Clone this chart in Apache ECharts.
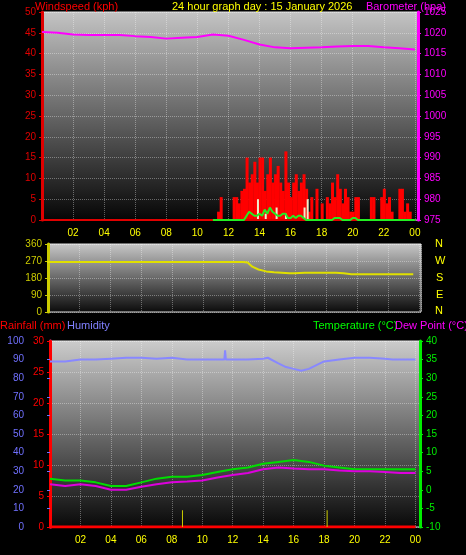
<!DOCTYPE html>
<html><head><meta charset="utf-8">
<script src="https://cdn.jsdelivr.net/npm/echarts@6/dist/echarts.min.js"></script>
<style>body{margin:0;background:#000}#c{width:466px;height:555px}</style>
</head><body><div id="c"></div>
<script>
// gusts every 10 min from 11:00 to 24:00
var gustStart = 11;
var gusts = [0,0,2,5.5,0,0, 0,0,5.5,5.5,4,7, 7.5,15,9,11,14,9, 15,15,7,11,15,9, 11,13,9,7,16.5,9,
  5.5,9,11,7,9,11, 7.5,2,5.5,0,7.5,0, 4,0,5.5,4,9,5.5, 11,7.5,4,7.5,5.5,2, 2,5.5,5.5,0,0,0,
  0,5.5,5.5,0,0,5.5, 7.5,4,5.5,2,0,0, 7.5,7.5,2,4,2,0, 0];
var avgWind = [0,0,0,0,0,0, 0,0,0,0,0,0, 0,1,2,1.5,1,1, 1.5,1,2.5,1.5,3,2, 1.5,1,1,1.5,1.5,0.5,
  0.5,1,0.5,1,1,0.5, 0,0,0,0,0,0, 0,0,0,0,0,0.5, 0.5,0.5,0,0,0,0, 0.5,0.5,0,0,0,0,
  0,0,0,0,0,0, 0,0,0,0,0,0, 0,0,0,0,0,0, 0];
var whiteBars = [[13.9,5],[14.4,1.5],[15.1,3],[15.7,1.5],[16.9,3],[17.1,5]];
var hours = [0,1,2,3,4,5,6,7,8,9,10,11,12,13,14,15,16,17,18,19,20,21,22,23,24];
var baro = [1020.2,1020,1019.6,1019.5,1019.5,1019.5,1019.2,1019,1018.6,1018.8,1019,1019.6,1019.3,1018.3,1017.2,1016.5,1016.3,1016.4,1016.5,1016.7,1016.8,1016.8,1016.5,1016.3,1016];
var dirHours = [0,13,13.3,13.6,14,14.5,15,16,16.3,17,18,19,19.5,20,24];
var dir = [265,265,262,240,225,215,210,205,205,208,208,208,205,200,200];
var humHours = [0,1,2,3,4,5,6,7,8,9,10,11,11.45,11.5,11.55,12,13,14,14.3,15,15.5,16,16.5,17,17.5,18,19,20,21,22,22.5,24];
var hum = [89,89,90,90,90.5,91,91,90.5,91,90,90,90,90,95,90,90,90,90.5,91,88,86,85,84,85,87,89,90,91,91,90.5,90,90];
var temp = [3,2.5,2.5,2,1,1,2,3,3.5,3.5,4,4.8,5.5,6,7,7.5,8,7.5,6.5,6,5.5,5.5,5.5,5.5,5.5];
var dew = [1.5,1,1.5,1,0,0,0.8,1.5,2,2.2,2.5,3.3,4,4.5,5.5,6,5.7,5.5,5.5,5.2,5,5,4.8,4.5,4.5];
var strikes = [8.7,18.2];

function pairs(xs, ys){ return xs.map(function(x,i){ return [x, ys[i]]; }); }
function stepSeries(start, ys){ return ys.map(function(v,i){ return [start + i/6, v]; }); }
var strikeLine = [];
strikes.forEach(function(h){ strikeLine.push([h,-10],[h,-5.5],null); });

var font = 'Liberation Sans';
var bg = function(top, bot){ return {type:'linear',x:0,y:0,x2:0,y2:1,colorStops:[{offset:0,color:top},{offset:1,color:bot}]}; };
var gridLine = {show:true, lineStyle:{color:'rgba(255,255,255,0.35)', type:'dotted'}};
function xAx(idx, min, max){
  return {type:'value', gridIndex:idx, min:min, max:max, interval:2,
    axisLine:{show:false}, axisTick:{show:false},
    splitLine:gridLine,
    axisLabel:{color:'#ff0', fontFamily:font, fontSize:10, margin:8,
      formatter:function(v){ if(v<=0||v%2) return ''; var h=v%24; return (h<10?'0':'')+h; }}};
}
function yAx(idx, pos, min, max, interval, color, offset, split){
  return {type:'value', gridIndex:idx, position:pos, min:min, max:max, interval:interval, offset:offset||0,
    axisLine:{show:true, lineStyle:{color:color, width:3}},
    axisTick:{show:true, length:3, lineStyle:{color:color}},
    axisLabel:{color:color, fontFamily:font, fontSize:10, margin:6, formatter:function(v){ return String(v); }},
    splitLine: split ? gridLine : {show:false}};
}
var txt = function(x, y, s, c, align){ return {type:'text', left:align==='right'?undefined:x, right:align==='right'?x:undefined, top:y, style:{text:s, fill:c, font:'11px '+font}}; };

var chart = echarts.init(document.getElementById('c'));
chart.setOption({
  backgroundColor:'#000',
  animation:false,
  grid:[
    {left:42, right:48, top:12, bottom:335, show:true, backgroundColor:bg('#c4c4c4','#050505'), borderColor:'#ddd', borderWidth:1},
    {left:48, right:45, top:244, bottom:243, show:true, backgroundColor:bg('#c8c8c8','#0a0a0a'), borderColor:'#ddd', borderWidth:1},
    {left:50, right:46, top:341, bottom:28, show:true, backgroundColor:bg('#cccccc','#080808'), borderColor:'#ddd', borderWidth:1}
  ],
  xAxis:[
    xAx(0, 0, 24.2),
    Object.assign(xAx(1, 0.4, 24.5), {position:'top'}),
    xAx(2, 0, 24.3)
  ],
  yAxis:[
    yAx(0,'left',0,50,5,'#e00000',0,true),
    yAx(0,'right',975,1025,5,'#ff00ff',0,false),
    yAx(1,'left',0,360,90,'#cccc00',0,true),
    yAx(2,'left',0,100,10,'#7070ff',20,false),
    yAx(2,'left',0,30,5,'#ff0000',0,true),
    yAx(2,'right',-10,40,5,'#00ee00',0,false)
  ],
  graphic:[
    txt(35,1,'Windspeed (kph)','#ff0000'),
    txt(172,1,'24 hour graph day : 15 January 2026','#ffff00'),
    txt(20,1,'Barometer (hpa)','#ff00ff','right'),
    txt(435,238,'N','#ffff00'), txt(435,255,'W','#ffff00'), txt(436,272,'S','#ffff00'),
    txt(436,289,'E','#ffff00'), txt(435,305,'N','#ffff00'),
    txt(0,320,'Rainfall (mm)','#ff0000'),
    txt(67,320,'Humidity','#8080ff'),
    txt(313,320,'Temperature (°C)','#00ff00'),
    txt(395,320,'Dew Point (°C)','#ff00ff')
  ],
  series:[
    {type:'line', xAxisIndex:0, yAxisIndex:0, data:[[0,0],[24,0]], symbol:'none', lineStyle:{color:'#e00000',width:2}},
    {type:'bar', xAxisIndex:0, yAxisIndex:0, data:stepSeries(gustStart,gusts), barWidth:3, itemStyle:{color:'#ff0000'}},
    {type:'bar', xAxisIndex:0, yAxisIndex:0, data:whiteBars, barWidth:2, barGap:'-100%', itemStyle:{color:'#eeeecc'}},
    {type:'line', xAxisIndex:0, yAxisIndex:0, data:stepSeries(gustStart,avgWind), symbol:'none', lineStyle:{color:'#22ee22',width:2}},
    {type:'line', xAxisIndex:0, yAxisIndex:1, data:pairs(hours,baro), symbol:'none', lineStyle:{color:'#ff00ff',width:2}},
    {type:'line', xAxisIndex:1, yAxisIndex:2, data:pairs(dirHours,dir), symbol:'none', lineStyle:{color:'#e0e000',width:2}},
    {type:'line', xAxisIndex:2, yAxisIndex:3, data:pairs(humHours,hum), symbol:'none', lineStyle:{color:'#8888ff',width:2}},
    {type:'line', xAxisIndex:2, yAxisIndex:4, data:[[0,0],[24,0]], symbol:'none', lineStyle:{color:'#ff0000',width:3}},
    {type:'line', xAxisIndex:2, yAxisIndex:5, data:pairs(hours,temp), symbol:'none', lineStyle:{color:'#00dd00',width:2}},
    {type:'line', xAxisIndex:2, yAxisIndex:5, data:pairs(hours,dew), symbol:'none', lineStyle:{color:'#dd00dd',width:2}},
    {type:'line', xAxisIndex:2, yAxisIndex:5, data:strikeLine, symbol:'none', connectNulls:false, lineStyle:{color:'#cccc00',width:1}}
  ]
});
</script></body></html>
